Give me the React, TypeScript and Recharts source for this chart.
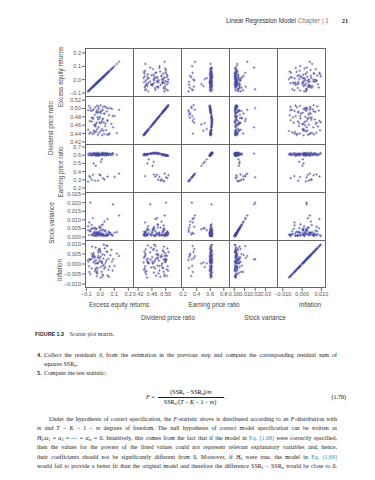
import React from "react";
import { ScatterChart, Scatter, XAxis, YAxis } from "recharts";

const names = [
  "Excess equity returns",
  "Dividend price ratio",
  "Earning price ratio",
  "Stock variance",
  "Inflation",
];

const excess = [
  -0.018, 0.027, -0.046, 0.012, -0.071, 0.048, -0.031, 0.066, -0.009, 0.021,
  -0.038, 0.118, -0.087, 0.003, -0.057, 0.041, -0.024, 0.058, -0.013, 0.034,
  -0.043, 0.079, -0.027, 0.008, -0.076, 0.052, -0.016, 0.019, -0.052, -0.004,
  0.088, -0.034, 0.037, -0.062, 0.014, -0.007, 0.061, -0.041, 0.024, -0.021,
  0.002, -0.029, 0.046, -0.068, 0.017, -0.011, 0.072, -0.036, 0.031, -0.019,
  0.009, -0.049, 0.043, -0.081, -0.002, -0.026, 0.056, -0.014, 0.026, -0.059,
  0.083, -0.023, -0.033, 0.004, -0.048, 0.011, 0.134, -0.072, 0.091, -0.061,
  -0.039, -0.017, 0.051, 0.001, -0.079, 0.029, -0.053, 0.018, -0.088, 0.102, -0.006,
];

const dividend = [
  0.437, 0.439, 0.441, 0.436, 0.443, 0.438, 0.445, 0.44, 0.442, 0.447,
  0.444, 0.441, 0.449, 0.446, 0.439, 0.448, 0.45, 0.437, 0.455, 0.458,
  0.461, 0.463, 0.466, 0.468, 0.47, 0.472, 0.474, 0.476, 0.478, 0.48,
  0.482, 0.457, 0.464, 0.469, 0.473, 0.477, 0.484, 0.46, 0.467, 0.479,
  0.489, 0.491, 0.493, 0.495, 0.497, 0.499, 0.501, 0.503, 0.505, 0.49,
  0.494, 0.498, 0.502, 0.506, 0.492, 0.496, 0.5, 0.504, 0.488, 0.495,
  0.499, 0.507, 0.462, 0.465, 0.447, 0.451, 0.497, 0.501, 0.455, 0.478,
  0.485, 0.492, 0.47, 0.508, 0.44, 0.488, 0.475, 0.504, 0.496, 0.482, 0.466,
];

const earning = [
  0.604, 0.608, 0.611, 0.602, 0.606, 0.613, 0.609, 0.615, 0.603, 0.612,
  0.607, 0.605, 0.614, 0.61, 0.601, 0.617, 0.612, 0.608, 0.618, 0.621,
  0.624, 0.619, 0.626, 0.622, 0.628, 0.623, 0.627, 0.62, 0.625, 0.618,
  0.622, 0.616, 0.629, 0.621, 0.63, 0.617, 0.619, 0.623, 0.626, 0.614,
  0.607, 0.603, 0.609, 0.6, 0.604, 0.598, 0.602, 0.596, 0.599, 0.611,
  0.606, 0.601, 0.595, 0.597, 0.608, 0.603, 0.6, 0.594, 0.61, 0.605,
  0.601, 0.593, 0.47, 0.52, 0.5, 0.55, 0.375, 0.33, 0.62, 0.3,
  0.29, 0.288, 0.34, 0.355, 0.345, 0.305, 0.36, 0.32, 0.28, 0.335, 0.365,
];

const stockVar = [
  0.0012, 0.0009, 0.0021, 0.0015, 0.0034, 0.0007, 0.0018, 0.0026, 0.0011, 0.0042,
  0.0008, 0.0029, 0.0063, 0.0014, 0.0019, 0.001, 0.0023, 0.0031, 0.0016, 0.0009,
  0.0027, 0.0013, 0.0048, 0.0006, 0.0035, 0.0011, 0.002, 0.0074, 0.0012, 0.0025,
  0.0008, 0.0017, 0.0039, 0.001, 0.0022, 0.0055, 0.0014, 0.003, 0.0007, 0.0019,
  0.0013, 0.0028, 0.0009, 0.0046, 0.0016, 0.0011, 0.0024, 0.0008, 0.0033, 0.0015,
  0.0068, 0.001, 0.0021, 0.0012, 0.0037, 0.0006, 0.0018, 0.0027, 0.0009, 0.0051,
  0.0013, 0.0023, 0.0045, 0.0052, 0.005, 0.004, 0.0125, 0.02, 0.019, 0.007,
  0.0055, 0.003, 0.0105, 0.002, 0.0085, 0.009, 0.011, 0.0015, 0.004, 0.0025, 0.006,
];

const inflation = [
  0.0031, -0.0024, 0.0045, 0.0008, -0.0051, 0.0062, 0.0019, -0.0012, 0.0074, 0.0027,
  -0.0036, 0.0052, 0.0011, -0.0068, 0.0038, 0.0093, 0.0004, -0.0029, 0.0058, -0.0017,
  0.0035, 0.0071, -0.0043, 0.0013, 0.0024, -0.0058, 0.0066, -0.0008, 0.0042, 0.0017,
  -0.0033, 0.0082, 0.0006, -0.0022, 0.0048, 0.0029, -0.0064, 0.0015, 0.0097, -0.0047,
  0.0036, -0.0019, 0.0061, 0.0022, -0.0053, 0.0009, 0.0044, -0.0027, 0.0078, 0.0003,
  -0.0039, 0.0055, 0.0018, -0.0011, 0.0069, -0.0061, 0.0026, 0.004, -0.0006, 0.0087,
  0.0012, -0.0034, 0.0002, -0.0015, 0.0008, 0.0004, 0.004, 0.0023, 0.0024, 0.005,
  0.0035, -0.002, 0.009, 0.006, -0.004, 0.0045, 0.003, -0.006, 0.002, -0.001, 0.0075,
];

const vars = [excess, dividend, earning, stockVar, inflation];

const yTicks = [
  [-0.1, 0, 0.1, 0.2],
  [0.42, 0.44, 0.46, 0.48, 0.5, 0.52],
  [0.2, 0.3, 0.4, 0.5, 0.6, 0.7],
  [0, 0.005, 0.01, 0.015, 0.02, 0.025],
  [-0.01, -0.005, 0, 0.005, 0.01],
];
const xTicks = [
  [-0.1, 0, 0.1, 0.2],
  [0.42, 0.46, 0.5],
  [0.2, 0.4, 0.6, 0.8],
  [0, 0.01, 0.02, 0.03],
  [-0.01, 0, 0.01],
];
const yDec = [1, 2, 1, 3, 3];
const xDec = [1, 2, 1, 2, 3];

// layout
const X0 = 85;
const Y0 = 48;
const PW = 48.2;
const PH = 48;
const yDomains = [
  [-0.1225, 0.2375],
  [0.415, 0.53],
  [0.151, 0.737],
  [-0.0017, 0.0262],
  [-0.012, 0.012],
];
const xDomains = [
  [-0.11, 0.235],
  [0.405, 0.545],
  [0.17, 0.88],
  [-0.004, 0.042],
  [-0.0125, 0.0125],
];
const xTitlePos = [
  [119, 304],
  [168, 317],
  [214, 304],
  [265, 317],
  [310, 304],
];
const yTitlePos = [
  [60, 77],
  [50, 128],
  [60, 172],
  [51, 223],
  [59, 270],
];

const fmt = (d: number) => (v: number) => v.toFixed(d).replace("-", "\u2212");
const tickStyle = { fontSize: 5.5, fill: "#555", fontFamily: "Liberation Sans" };
const sans = "'Liberation Sans', Arial, sans-serif";
const serif = "'Liberation Serif', 'Times New Roman', serif";

const Plus = (p: any) => {
  const { cx, cy } = p;
  if (cx == null || cy == null) return null;
  return (
    <path
      d={`M${cx - 1.3},${cy}H${cx + 1.3}M${cx},${cy - 1.3}V${cy + 1.3}`}
      stroke="#4a4aa6"
      strokeWidth={0.6}
      fill="none"
    />
  );
};

function Panel({ r, c }: { r: number; c: number }) {
  const data = vars[c].map((v, i) => ({ x: v, y: vars[r][i] }));
  const left = c === 0 ? 40 : 0;
  const bottom = r === 4 ? 14 : 0;
  return (
    <div style={{ position: "absolute", left: X0 + c * PW - left, top: Y0 + r * PH }}>
      <ScatterChart
        width={PW + left}
        height={PH + bottom}
        margin={{ top: 0, right: 0, bottom: 0, left: 0 }}
        style={{ overflow: "visible" }}
      >
        <XAxis
          type="number"
          dataKey="x"
          domain={xDomains[c]}
          allowDataOverflow
          hide={r !== 4}
          height={bottom}
          ticks={xTicks[c]}
          interval={0}
          tickFormatter={fmt(xDec[c])}
          tickSize={3}
          tickMargin={1}
          axisLine={false}
          tickLine={{ stroke: "#666" }}
          tick={tickStyle}
        />
        <YAxis
          type="number"
          dataKey="y"
          domain={yDomains[r]}
          allowDataOverflow
          hide={c !== 0}
          width={left}
          ticks={yTicks[r]}
          interval={0}
          tickFormatter={fmt(yDec[r])}
          tickSize={3}
          tickMargin={1}
          axisLine={false}
          tickLine={{ stroke: "#666" }}
          tick={tickStyle}
        />
        <Scatter data={data} shape={Plus} isAnimationActive={false} />
      </ScatterChart>
    </div>
  );
}

function Line({ x, y, w, last, children, size = 6.0 }: any) {
  return (
    <div
      style={{
        position: "absolute",
        left: x,
        top: y - 4,
        width: w,
        height: 8,
        lineHeight: "8px",
        fontSize: size,
        fontFamily: serif,
        color: "#222",
        textAlign: last ? "left" : "justify",
        textAlignLast: last ? "left" : "justify",
        overflow: "hidden",
      } as any}
    >
      {children}
    </div>
  );
}

const sub = { fontSize: "70%", verticalAlign: "-1px", lineHeight: 0 } as any;
const link = { color: "#2a8fc4" };

export default function App() {
  const cells: any[] = [];
  for (let r = 0; r < 5; r++) for (let c = 0; c < 5; c++) cells.push(<Panel key={`${r}-${c}`} r={r} c={c} />);
  return (
    <div
      style={{
        position: "absolute",
        left: 0,
        top: 0,
        width: 375,
        height: 480,
        background: "#fff",
        overflow: "hidden",
      }}
    >
      <style>{".recharts-surface{overflow:visible}"}</style>
      <div
        style={{
          position: "absolute",
          left: 226,
          top: 17,
          fontSize: 6.3,
          fontFamily: sans,
          color: "#333",
          whiteSpace: "nowrap",
          lineHeight: "8px",
        }}
      >
        Linear Regression Model <span style={{ color: "#777" }}>Chapter | 1</span>
        <span style={{ marginLeft: 13, fontFamily: serif, fontWeight: "bold", color: "#222" }}>21</span>
      </div>

      {cells}

      <div
        style={{
          position: "absolute",
          left: X0,
          top: Y0,
          width: PW * 5,
          height: PH * 5,
          border: "1px solid #666",
          boxSizing: "border-box",
          pointerEvents: "none",
        }}
      />
      {[1, 2, 3, 4].map((k) => (
        <div
          key={`v${k}`}
          style={{ position: "absolute", left: X0 + k * PW - 0.5, top: Y0, width: 1, height: PH * 5, background: "#666" }}
        />
      ))}
      {[1, 2, 3, 4].map((k) => (
        <div
          key={`h${k}`}
          style={{ position: "absolute", left: X0, top: Y0 + k * PH - 0.5, width: PW * 5, height: 1, background: "#666" }}
        />
      ))}

      {names.map((n, i) => (
        <div
          key={`xt${i}`}
          style={{
            position: "absolute",
            left: xTitlePos[i][0],
            top: xTitlePos[i][1],
            transform: "translate(-50%,-50%)",
            fontSize: 6.3,
            fontFamily: sans,
            color: "#444",
            whiteSpace: "nowrap",
          }}
        >
          {n}
        </div>
      ))}
      {names.map((n, i) => (
        <div
          key={`yt${i}`}
          style={{
            position: "absolute",
            left: yTitlePos[i][0],
            top: yTitlePos[i][1],
            transform: "translate(-50%,-50%) rotate(-90deg)",
            fontSize: 6.3,
            fontFamily: sans,
            color: "#444",
            whiteSpace: "nowrap",
          }}
        >
          {n}
        </div>
      ))}

      <div style={{ position: "absolute", left: 35, top: 327, whiteSpace: "nowrap", lineHeight: "8px" }}>
        <span style={{ fontFamily: sans, fontWeight: "bold", fontSize: 5.3, color: "#222" }}>FIGURE 1.3</span>
        <span style={{ fontFamily: serif, fontSize: 5.8, color: "#333", marginLeft: 6 }}>Scatter plot matrix.</span>
      </div>

      <Line x={37} y={355} w={8}><b>4.</b></Line>
      <Line x={44} y={355} w={293}>
        Collect the residuals <i>ê</i><span style={sub}><i>t</i></span> from the estimation in the previous step and compute the corresponding residual sum of
      </Line>
      <Line x={44} y={364} w={200} last>
        squares SSR<span style={sub}>u</span>.
      </Line>
      <Line x={37} y={373} w={8}><b>5.</b></Line>
      <Line x={44} y={373} w={200} last>Compute the test statistic:</Line>

      <Line x={146} y={397} w={14} last><i>F</i> =</Line>
      <div
        style={{ position: "absolute", left: 191, top: 388, transform: "translateX(-50%)", fontSize: 6.0, fontFamily: serif, whiteSpace: "nowrap", lineHeight: "8px" }}
      >
        (SSR<span style={sub}>r</span> − SSR<span style={sub}>u</span>)/<i>m</i>
      </div>
      <div style={{ position: "absolute", left: 158, top: 396.5, width: 66, height: 0, borderTop: "0.6px solid #222" }} />
      <div
        style={{ position: "absolute", left: 190, top: 398, transform: "translateX(-50%)", fontSize: 6.0, fontFamily: serif, whiteSpace: "nowrap", lineHeight: "8px" }}
      >
        SSR<span style={sub}>u</span>/(<i>T</i> − <i>K</i> − 1 − <i>m</i>)
      </div>
      <Line x={225} y={397} w={6} last>.</Line>
      <div
        style={{ position: "absolute", right: 375 - 346, top: 393, fontSize: 6.0, fontFamily: serif, lineHeight: "8px" }}
      >
        (1.70)
      </div>

      <Line x={49} y={419} w={288}>
        Under the hypothesis of correct specification, the <i>F</i>-statistic above is distributed according to an <i>F</i>-distribution with
      </Line>
      <Line x={37} y={428} w={300}>
        <i>m</i> and <i>T</i> − <i>K</i> − 1 − <i>m</i> degrees of freedom. The null hypothesis of correct model specification can be written as
      </Line>
      <Line x={37} y={438} w={300}>
        <i>H</i><span style={sub}>0</span>:<i>α</i><span style={sub}>1</span> = <i>α</i><span style={sub}>2</span> = ⋯ = <i>α</i><span style={sub}><i>m</i></span> = 0. Intuitively, this comes from the fact that if the model in <span style={link}>Eq. (1.68)</span> were correctly specified,
      </Line>
      <Line x={37} y={447} w={300}>
        then the values for the powers of the fitted values could not represent relevant explanatory variables and, hence,
      </Line>
      <Line x={37} y={457} w={300}>
        their coefficients should not be significantly different from 0. Moreover, if <i>H</i><span style={sub}>0</span> were true, the model in <span style={link}>Eq. (1.69)</span>
      </Line>
      <Line x={37} y={466} w={300}>
        would fail to provide a better fit than the original model and therefore the difference SSR<span style={sub}>r</span> − SSR<span style={sub}>u</span> would be close to 0.
      </Line>
    </div>
  );
}
